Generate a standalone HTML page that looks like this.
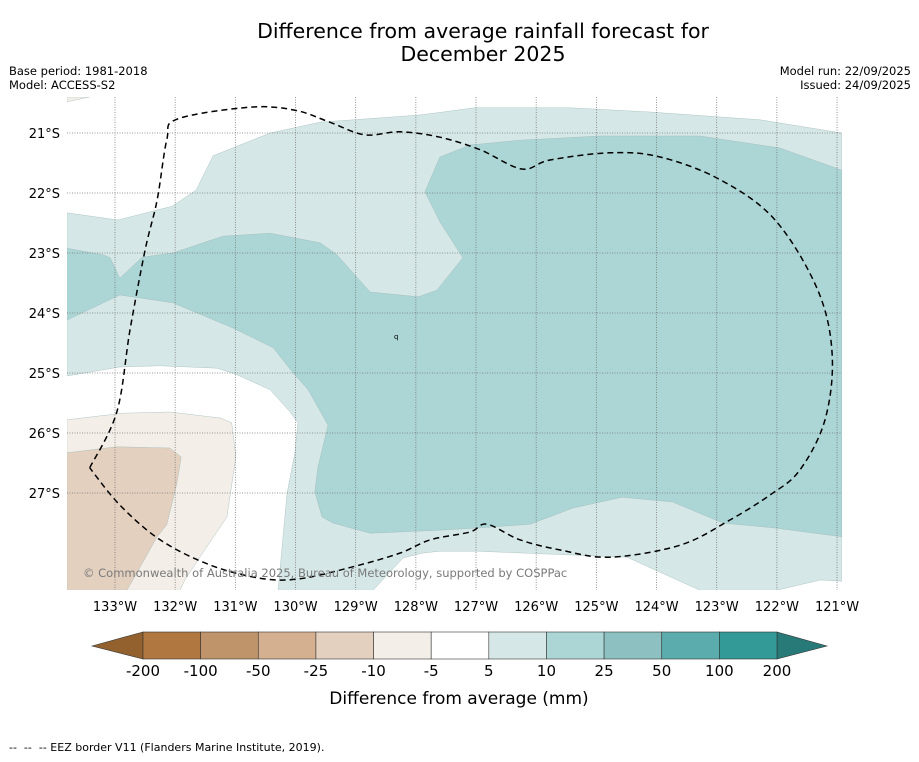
<!DOCTYPE html>
<html><head><meta charset="utf-8"><style>
html,body{margin:0;padding:0;background:#fff;}
body{width:919px;height:758px;overflow:hidden;font-family:"DejaVu Sans","Liberation Sans",sans-serif;}
</style></head><body>
<svg id="chart" width="919" height="758" xmlns="http://www.w3.org/2000/svg" font-family="DejaVu Sans, Liberation Sans, sans-serif">
<text x="483" y="38" text-anchor="middle" font-size="20.5" fill="#000">Difference from average rainfall forecast for</text>
<text x="483" y="61" text-anchor="middle" font-size="20.5" fill="#000">December 2025</text>
<text x="9" y="75" font-size="11.5">Base period: 1981-2018</text>
<text x="9" y="89" font-size="11.5">Model: ACCESS-S2</text>
<text x="911" y="75" font-size="11.5" text-anchor="end">Model run: 22/09/2025</text>
<text x="911" y="89" font-size="11.5" text-anchor="end">Issued: 24/09/2025</text>
<g id="map"></g>
<g id="axes"></g>
<g id="cbar"></g>
<text x="459" y="704" text-anchor="middle" font-size="17">Difference from average (mm)</text>
<text x="9" y="751" font-size="11" xml:space="preserve" style="white-space:pre">--  --  -- EEZ border V11 (Flanders Marine Institute, 2019).</text>
</svg>
<script>
const lonTicks=[133,132,131,130,129,128,127,126,125,124,123,122,121];
const latTicks=[21,22,23,24,25,26,27];
const lightTeal=[[133.80,22.33],[132.95,22.45],[132.05,22.22],[131.65,21.95],[131.37,21.38],[130.42,21.00],[129.59,20.82],[127.93,20.70],[127.02,20.58],[125.44,20.58],[124.11,20.65],[122.28,20.78],[120.92,21.00],[120.92,28.47],[121.28,28.45],[122.00,28.62],[123.28,28.62],[124.49,28.07],[126.98,27.97],[127.60,27.97],[127.88,28.00],[128.21,28.08],[128.71,28.62],[130.29,28.62],[130.14,27.00],[130.01,26.33],[129.96,25.83],[130.09,25.65],[130.42,25.28],[130.97,25.03],[131.30,24.92],[132.25,24.88],[132.92,24.90],[133.80,25.05]];
const midTeal=[[133.80,22.92],[133.20,23.03],[133.08,23.08],[132.92,23.42],[132.55,23.07],[132.04,23.00],[131.21,22.72],[130.42,22.67],[129.59,22.83],[129.31,23.03],[128.76,23.65],[127.96,23.73],[127.65,23.62],[127.22,23.08],[127.60,22.48],[127.85,21.98],[127.60,21.40],[127.10,21.20],[126.27,21.12],[124.94,21.05],[123.28,21.05],[121.95,21.25],[120.92,21.62],[120.92,27.73],[122.06,27.58],[122.90,27.50],[123.73,27.15],[124.57,27.07],[125.39,27.25],[126.10,27.52],[126.93,27.58],[127.60,27.62],[128.76,27.67],[129.38,27.50],[129.56,27.40],[129.68,26.98],[129.63,26.58],[129.46,25.87],[129.79,25.28],[130.04,25.00],[130.37,24.58],[131.04,24.25],[132.04,23.83],[132.92,23.70],[133.80,24.12]];
const lightTan=[[133.80,25.78],[132.87,25.67],[132.09,25.65],[131.25,25.75],[131.06,25.83],[130.99,26.40],[131.14,27.40],[131.59,28.07],[131.84,28.45],[131.92,28.62],[133.80,28.62]];
const darkTan=[[133.80,26.33],[132.97,26.23],[132.09,26.25],[131.90,26.40],[131.97,26.83],[132.14,27.53],[132.30,27.73],[132.58,28.23],[132.80,28.62],[133.80,28.62]];
const cornerTan=[[133.80,20.40],[133.42,20.40],[133.80,20.48]];
const eez=[[133.42,26.58],[132.97,25.65],[132.75,24.28],[132.50,22.95],[132.30,22.12],[132.14,21.12],[131.97,20.77],[130.76,20.57],[130.01,20.62],[129.43,20.82],[128.85,21.03],[128.26,20.98],[127.60,21.07],[126.93,21.28],[126.24,21.60],[125.77,21.45],[124.77,21.33],[123.94,21.40],[122.94,21.78],[122.03,22.45],[121.32,23.62],[121.08,24.70],[121.20,25.78],[121.62,26.62],[122.11,27.03],[122.78,27.45],[123.61,27.87],[124.77,28.07],[125.60,27.95],[126.27,27.78],[126.82,27.52],[127.10,27.65],[127.76,27.78],[128.26,28.00],[129.01,28.22],[129.93,28.43],[130.59,28.42],[131.42,28.20],[132.25,27.78],[132.92,27.20],[133.42,26.58]];
const cbLabels=["-200","-100","-50","-25","-10","-5","5","10","25","50","100","200"];
const cbColors=["#b07840","#c0946a","#d4b090","#e3d0bf","#f3eee8","#ffffff","#d5e8e7","#acd5d5","#8cc0c1","#5aacad","#339a98"];

const NS="http://www.w3.org/2000/svg";
const X0=67,X1=842,Y0=97,Y1=590;
const xs=lon=>115+(133-lon)*60.17;
const ys=lat=>133+(lat-21)*60;
function mk(t,a,p){const e=document.createElementNS(NS,t);for(const k in a)e.setAttribute(k,a[k]);p.appendChild(e);return e;}
const map=document.getElementById('map');
const defs=mk('defs',{},map);
const cp=mk('clipPath',{id:'clip'},defs);
mk('rect',{x:X0,y:Y0,width:X1-X0,height:Y1-Y0},cp);
const g=mk('g',{'clip-path':'url(#clip)'},map);
function poly(pts,fill,name){
  const p=mk('polygon',{points:pts.map(q=>xs(q[0]).toFixed(1)+','+ys(q[1]).toFixed(1)).join(' '),fill:fill,stroke:'#9fb9b9','stroke-width':0.4},g);
  
  
}
poly(lightTeal,'#d5e8e7','contour-5-to-10');
poly(midTeal,'#acd5d5','contour-10-to-25');
poly(lightTan,'#f3eee8','contour-minus10-to-minus5');
poly(darkTan,'#e3d0bf','contour-minus25-to-minus10');
poly(cornerTan,'#f3eee8','contour-corner-tan');
lonTicks.forEach(l=>{const ln=mk('line',{x1:xs(l),x2:xs(l),y1:Y0,y2:Y1,stroke:'#777','stroke-width':0.8,'stroke-dasharray':'1,1.5'},g);

});
latTicks.forEach(l=>{const ln=mk('line',{x1:X0,x2:X1,y1:ys(l),y2:ys(l),stroke:'#777','stroke-width':0.8,'stroke-dasharray':'1,1.5'},g);

});
// smooth EEZ path (Catmull-Rom)
const P=eez.map(q=>[xs(q[0]),ys(q[1])]);
let d='M'+P[0][0].toFixed(1)+','+P[0][1].toFixed(1);
for(let i=0;i<P.length-1;i++){
  const p0=P[Math.max(i-1,0)],p1=P[i],p2=P[i+1],p3=P[Math.min(i+2,P.length-1)];
  const c1=[p1[0]+(p2[0]-p0[0])/6,p1[1]+(p2[1]-p0[1])/6],c2=[p2[0]-(p3[0]-p1[0])/6,p2[1]-(p3[1]-p1[1])/6];
  d+=' C'+c1.map(v=>v.toFixed(1)).join(',')+' '+c2.map(v=>v.toFixed(1)).join(',')+' '+p2.map(v=>v.toFixed(1)).join(',');
}
const e=mk('path',{d:d,fill:'none',stroke:'#000','stroke-width':1.5,'stroke-dasharray':'6,4'},g);


const c=mk('text',{x:83,y:577,'font-size':11.5,fill:'#7a7a7a'},g);c.textContent='© Commonwealth of Australia 2025, Bureau of Meteorology, supported by COSPPac';


const q=mk('text',{x:394,y:339,'font-size':7,fill:'#000'},g);q.textContent='q';


const ax=document.getElementById('axes');
lonTicks.forEach(l=>{const t=mk('text',{x:xs(l),y:611,'text-anchor':'middle','font-size':13},ax);t.textContent=l+'°W';

});
latTicks.forEach(l=>{const t=mk('text',{x:60,y:ys(l)+5,'text-anchor':'end','font-size':13},ax);t.textContent=l+'°S';

});
const cb=document.getElementById('cbar');
const cx0=143,cx1=777,cy0=632,cy1=659,bw=(cx1-cx0)/cbColors.length;
const lt=mk('polygon',{points:`92,646 ${cx0},${cy0} ${cx0},${cy1}`,fill:'#93612e',stroke:'#333','stroke-width':0.6},cb);


const rt=mk('polygon',{points:`827,646 ${cx1},${cy0} ${cx1},${cy1}`,fill:'#277a78',stroke:'#333','stroke-width':0.6},cb);


cbColors.forEach((col,i)=>{const r=mk('rect',{x:cx0+i*bw,y:cy0,width:bw,height:cy1-cy0,fill:col,stroke:'#333','stroke-width':0.6},cb);

});
cbLabels.forEach((s,i)=>{const t=mk('text',{x:cx0+i*bw,y:676,'text-anchor':'middle','font-size':15},cb);t.textContent=s;

});
</script>
</body></html>
